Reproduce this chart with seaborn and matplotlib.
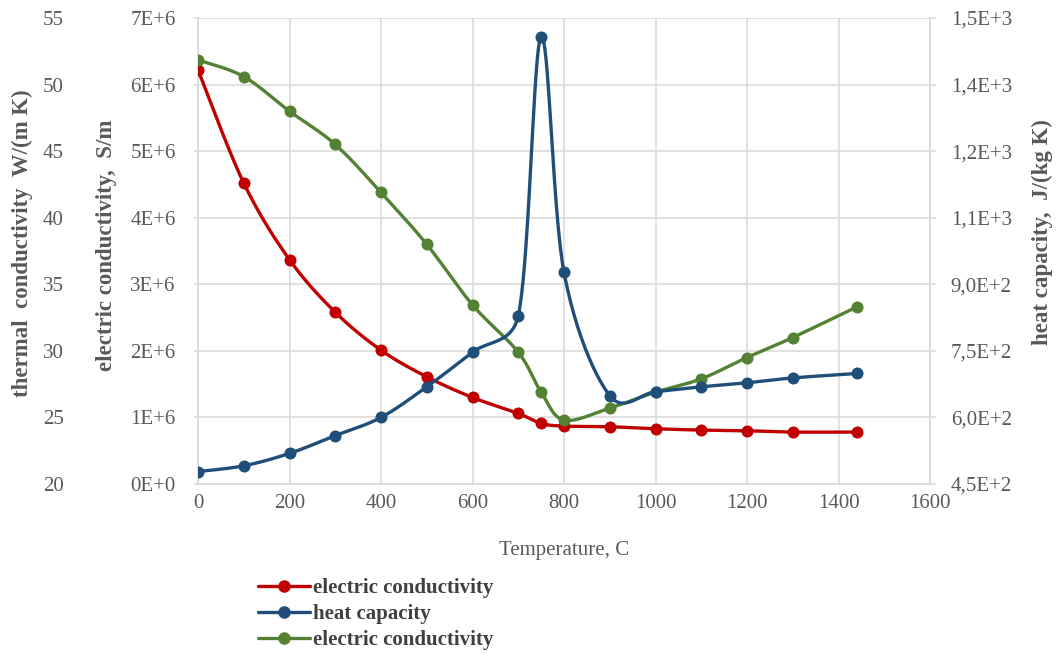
import numpy as np
import matplotlib
matplotlib.use("Agg")
import matplotlib.pyplot as plt
import seaborn as sns
from matplotlib.lines import Line2D

# ---------------- data ----------------
temperature = [0, 100, 200, 300, 400, 500, 600, 700, 750, 800, 900, 1000, 1100, 1200, 1300, 1440]
electric_conductivity = [6.22e6, 4.52e6, 3.37e6, 2.58e6, 2.01e6, 1.61e6, 1.30e6, 1.06e6, 0.91e6, 0.87e6,
                         0.86e6, 0.83e6, 0.81e6, 0.80e6, 0.78e6, 0.78e6]
heat_capacity = [478, 491, 519, 559, 600, 669, 747, 829, 1458, 927, 649, 658, 669, 678, 689, 699]
thermal_conductivity = [51.85, 50.6, 48.0, 45.5, 41.9, 38.0, 33.45, 29.9, 26.9, 24.8,
                        25.7, 26.9, 27.9, 29.5, 31.0, 33.3]

x_ticks = [0, 200, 400, 600, 800, 1000, 1200, 1400, 1600]
ec_ticks = [0, 1e6, 2e6, 3e6, 4e6, 5e6, 6e6, 7e6]
ec_tick_labels = ["0E+0", "1E+6", "2E+6", "3E+6", "4E+6", "5E+6", "6E+6", "7E+6"]
tc_ticks = [20, 25, 30, 35, 40, 45, 50, 55]
tc_tick_labels = ["20", "25", "30", "35", "40", "45", "50", "55"]
hc_ticks = [450, 600, 750, 900, 1050, 1200, 1350, 1500]
hc_tick_labels = ["4,5E+2", "6,0E+2", "7,5E+2", "9,0E+2", "1,1E+3", "1,2E+3", "1,4E+3", "1,5E+3"]

series_labels = ["electric conductivity", "heat capacity", "electric conductivity"]
x_label = "Temperature, C"
ec_label = "electric conductivity,  S/m"
tc_label = "thermal  conductivity  W/(m K)"
hc_label = "heat capacity,  J/(kg K)"

RED, BLUE, GREEN = "#C00000", "#1F4E79", "#548235"
GREY_TXT = "#595959"
GRID = "#D9D9D9"

# ---------------- style ----------------
sns.set_style("white")
plt.rcParams["font.family"] = ["Liberation Serif", "DejaVu Serif"]

W, H = 1058, 653
fig = plt.figure(figsize=(W / 100, H / 100), dpi=100)
L, R, T, B = 198, 930, 18, 484
ax = fig.add_axes([L / W, 1 - B / H, (R - L) / W, (B - T) / H])
ax_t = ax.twinx()
ax_h = ax.twinx()

XR = (0, 1600)
ECR = (0, 7e6)
TCR = (20, 55)
HCR = (450, 1500)
pw, ph = R - L, B - T


def smooth(xs, ys, xr, yr, n=40):
    """Excel-like smoothed line: Catmull-Rom Bezier in screen space,
    control arms limited to half the segment chord."""
    px = (np.asarray(xs, float) - xr[0]) / (xr[1] - xr[0]) * pw
    py = (np.asarray(ys, float) - yr[0]) / (yr[1] - yr[0]) * ph
    P = np.column_stack([px, py])
    out = [P[0]]
    t = np.linspace(0, 1, n)[1:, None]

    def clamp(v, lim):
        nv = np.hypot(*v)
        return v * (lim / nv) if nv > lim else v

    for i in range(len(P) - 1):
        p0 = P[i - 1] if i > 0 else P[i]
        p1, p2 = P[i], P[i + 1]
        p3 = P[i + 2] if i + 2 < len(P) else P[i + 1]
        chord = np.hypot(*(p2 - p1))
        c1 = p1 + clamp((p2 - p0) / 6, 0.5 * chord)
        c2 = p2 - clamp((p3 - p1) / 6, 0.5 * chord)
        seg = (1 - t) ** 3 * p1 + 3 * (1 - t) ** 2 * t * c1 + 3 * (1 - t) * t ** 2 * c2 + t ** 3 * p2
        out.extend(seg)
    out = np.array(out)
    return (out[:, 0] / pw * (xr[1] - xr[0]) + xr[0],
            out[:, 1] / ph * (yr[1] - yr[0]) + yr[0])


LW = 2.4
MS = 75
for a, ys, yr, col in [(ax, electric_conductivity, ECR, RED),
                       (ax_t, thermal_conductivity, TCR, GREEN),
                       (ax_h, heat_capacity, HCR, BLUE)]:
    sx, sy = smooth(temperature, ys, XR, yr)
    sns.lineplot(x=sx, y=sy, sort=False, estimator=None, ax=a, color=col, lw=LW, zorder=2)
    sns.scatterplot(x=temperature, y=ys, ax=a, color=col, s=MS, linewidth=0, zorder=3)
    a.set_ylim(*yr)
    a.set_xlim(*XR)

# ---------------- main axis (electric conductivity) ----------------
FS = 15
LFS = 16.5
ax.set_xticks(x_ticks)
ax.set_xticklabels([str(v) for v in x_ticks])
ax.set_yticks(ec_ticks)
ax.set_yticklabels(ec_tick_labels)
ax.grid(True, color=GRID, lw=1.1)
ax.set_axisbelow(True)
ax.spines["top"].set_visible(False)
for s in ["left", "bottom", "right"]:
    ax.spines[s].set_color(GRID)
    ax.spines[s].set_linewidth(1.1)
ax.tick_params(axis="both", colors=GRID, labelcolor=GREY_TXT, labelsize=FS, length=3, width=1.1, direction="out")
ax.tick_params(axis="y", pad=13)
ax.tick_params(axis="x", pad=7, length=0)
ax.set_xlabel(x_label, fontsize=FS, color=GREY_TXT, labelpad=20)
ax.set_ylabel(ec_label, fontsize=LFS, color=GREY_TXT, fontweight="bold")
ax.yaxis.set_label_coords(-0.111, 0.513)

# ---------------- thermal conductivity (outer left) ----------------
ax_t.yaxis.set_ticks_position("left")
ax_t.yaxis.set_label_position("left")
ax_t.spines["left"].set_position(("axes", -0.176))
for s in ["top", "right", "bottom", "left"]:
    ax_t.spines[s].set_visible(False)
ax_t.set_yticks(tc_ticks)
ax_t.set_yticklabels(tc_tick_labels)
ax_t.tick_params(axis="y", length=0, labelcolor=GREY_TXT, labelsize=FS, pad=4)
ax_t.set_ylabel(tc_label, fontsize=LFS, color=GREY_TXT, fontweight="bold")
ax_t.yaxis.set_label_coords(-0.225, 0.517)
ax_t.grid(False)

# ---------------- heat capacity (right) ----------------
for s in ["top", "bottom", "left"]:
    ax_h.spines[s].set_visible(False)
ax_h.spines["right"].set_color(GRID)
ax_h.spines["right"].set_linewidth(1.1)
ax_h.set_yticks(hc_ticks)
ax_h.set_yticklabels(hc_tick_labels)
ax_h.tick_params(axis="y", colors=GRID, labelcolor=GREY_TXT, labelsize=FS, length=4, width=1.1, pad=11)
ax_h.set_ylabel(hc_label, fontsize=LFS, color=GREY_TXT, fontweight="bold")
ax_h.yaxis.set_label_coords(1.139, 0.541)
ax_h.grid(False)

# ---------------- legend ----------------
handles = [Line2D([], [], color=c, lw=LW, marker="o", markersize=8)
           for c in (RED, BLUE, GREEN)]
leg = fig.legend(handles, series_labels, loc="upper left",
                 bbox_to_anchor=(258 / W, 1 - 578 / H), frameon=False,
                 prop={"size": FS, "weight": "bold", "family": ["Liberation Serif"]},
                 handlelength=2.5, handletextpad=0.15, labelspacing=0.3, borderaxespad=0, borderpad=0)
for t in leg.get_texts():
    t.set_color("#404040")

fig.savefig("out.png", dpi=100, facecolor="white")
